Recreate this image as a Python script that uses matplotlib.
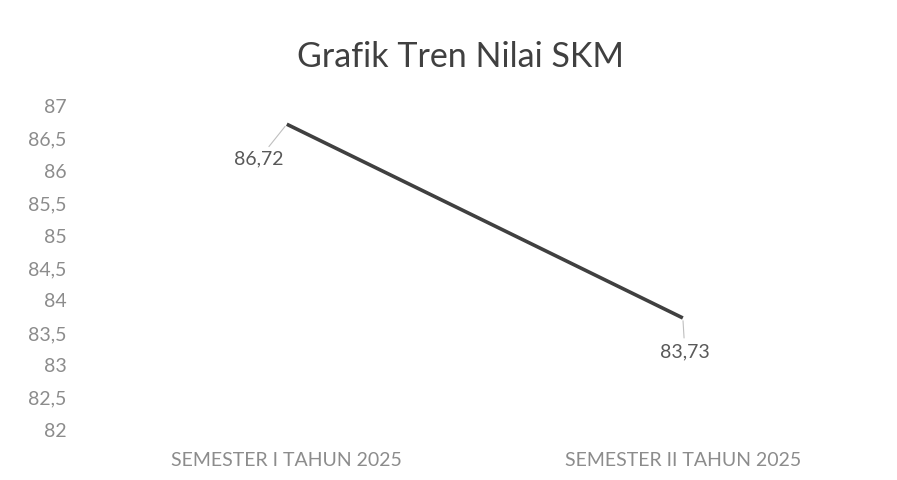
import matplotlib.pyplot as plt

plt.rcParams['font.family'] = ['Lato', 'DejaVu Sans']

# data
semesters = ['SEMESTER I TAHUN 2025', 'SEMESTER II TAHUN 2025']
nilai = [86.72, 83.73]
yticks = [82, 82.5, 83, 83.5, 84, 84.5, 85, 85.5, 86, 86.5, 87]

fig = plt.figure(figsize=(8.97, 4.80), dpi=100)
ax = fig.add_axes([0.099, 0.104, 0.883, 0.675])

x = range(len(semesters))
ax.plot(x, nilai, color='#404040', lw=2.6, solid_capstyle='butt')

ax.set_xlim(-0.5, 1.5)
ax.set_ylim(82, 87)
ax.set_yticks(yticks)
ax.set_yticklabels([f'{t:g}'.replace('.', ',') for t in yticks])
ax.set_xticks(list(x))
ax.set_xticklabels(semesters)
ax.tick_params(length=0, colors='#8c8c8c', labelsize=14)
ax.tick_params(axis='y', pad=16)
ax.tick_params(axis='x', pad=16)
for s in ax.spines.values():
    s.set_visible(False)

# data labels with leader lines
ax.annotate(f'{nilai[0]:.2f}'.replace('.', ','), xy=(0, nilai[0]),
            xytext=(-20, -25), textcoords='offset points',
            ha='center', va='center', fontsize=14, color='#595959',
            arrowprops=dict(arrowstyle='-', color='#bfbfbf', lw=0.8,
                            shrinkA=1, shrinkB=2))
ax.annotate(f'{nilai[1]:.2f}'.replace('.', ','), xy=(1, nilai[1]),
            xytext=(1.5, -24.5), textcoords='offset points',
            ha='center', va='center', fontsize=14, color='#595959',
            arrowprops=dict(arrowstyle='-', color='#bfbfbf', lw=0.8,
                            shrinkA=2, shrinkB=2))

fig.text(0.513, 0.882, 'Grafik Tren Nilai SKM', ha='center', va='center',
         fontsize=24.5, color='#404040')

fig.savefig('out.png', dpi=100, facecolor='white')
